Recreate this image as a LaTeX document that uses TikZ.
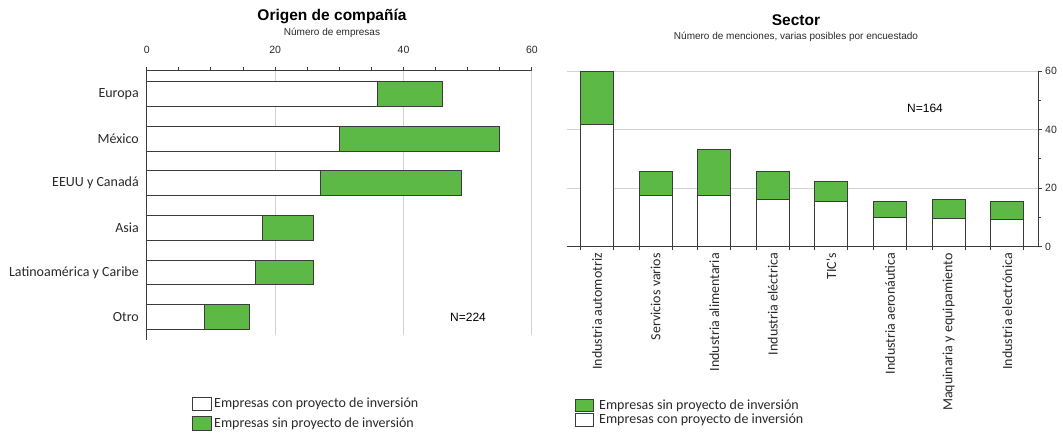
\documentclass[tikz,border=0pt]{standalone}
\usepackage{fontspec}
\setmainfont{Liberation Sans}
\newfontfamily\calfont{Carlito}
\definecolor{barg}{HTML}{5DB945}
\definecolor{gridc}{HTML}{D2D2D2}
\definecolor{edgec}{HTML}{3C3C3C}
\definecolor{labc}{HTML}{2A2A2A}
\begin{document}
\begin{tikzpicture}[x=1pt,y=-1pt,
  bedge/.style={draw=edgec, line width=0.9pt},
  wbar/.style={bedge, fill=white},
  gbar/.style={bedge, fill=barg},
  gridl/.style={draw=gridc, line width=1pt},
  axisl/.style={draw=edgec, line width=0.9pt},
  catlab/.style={font=\calfont\fontsize{14}{16}\selectfont, text=labc, inner sep=0pt},
  numlab/.style={font=\fontsize{10.5}{12}\selectfont, text=labc, inner sep=0pt},
  ttl/.style={font=\bfseries\fontsize{15.5}{18}\selectfont, inner sep=0pt},
  subttl/.style={font=\fontsize{10}{12}\selectfont, text=labc, inner sep=0pt},
  nlab/.style={font=\fontsize{12}{14}\selectfont, inner sep=0pt},
  legbox/.style={draw=edgec, line width=0.8pt},
]
\useasboundingbox (0,0) rectangle (1063,434);
\fill[white] (0,0) rectangle (1063,434);

% ---------------- Left chart: Origen de compañía ----------------
\node[ttl] (otitle) at (332,16.7) {Origen de compañía};
\node[subttl] (osub) at (332,33.3) {Número de empresas};
\foreach \v in {0,20,40,60}
  \node[numlab] (otick\v) at ({146.7+6.42*\v},50) {\v};
\foreach \v in {20,40,60}
  \draw[gridl] ({146.7+6.42*\v},70.7) -- ({146.7+6.42*\v},335);
\foreach \w/\t/\lab [count=\i from 0] in {36/46/Europa,30/55/México,27/49/{EEUU y Canadá},18/26/Asia,17/26/{Latinoamérica y Caribe},9/16/Otro} {
  \pgfmathsetmacro\yc{94+44.6*\i}
  \draw[gbar] ({146.7+6.42*\w},\yc-12.4) rectangle ({146.7+6.42*\t},\yc+12.4);
  \draw[wbar] (146.7,\yc-12.4) rectangle ({146.7+6.42*\w},\yc+12.4);
  \node[catlab, anchor=east] (ocat\i) at (139,\yc) {\lab};
}
\draw[axisl] (146.7,70.7) -- (531.7,70.7);
\draw[axisl] (146.7,70.7) -- (146.7,340);
\foreach \k in {0,...,12}
  \draw[axisl] ({146.7+32.1*\k},70.7) -- ++(0,-3.5);
\node[nlab] (on) at (468,317) {N=224};

% legend left
\draw[legbox, fill=white] (192.7,397) rectangle (211.7,410);
\node[catlab, anchor=west] (oleg1) at (214,403.5) {Empresas con proyecto de inversión};
\draw[legbox, fill=barg] (192.7,416.7) rectangle (211.7,430);
\node[catlab, anchor=west] (oleg2) at (214,423.3) {Empresas sin proyecto de inversión};

% ---------------- Right chart: Sector ----------------
\node[ttl] (stitle) at (796,20) {Sector};
\node[subttl] (ssub) at (796,36.7) {Número de menciones, varias posibles por encuestado};
\foreach \v in {20,40,60}
  \draw[gridl] (566.7,{246.7-2.928*\v}) -- (1038,{246.7-2.928*\v});
\foreach \wt/\gt/\lab [count=\i from 0] in {124/71/Industria automotriz,195.7/171.7/Servicios varios,195.7/149/Industria alimentaria,199/171.7/Industria eléctrica,201.7/181/TIC's,217.3/201.7/Industria aeronáutica,218.3/199/Maquinaria y equipamiento,219.3/201.7/Industria electrónica} {
  \pgfmathsetmacro\xl{580.5+58.6*\i}
  \draw[gbar] (\xl,\gt) rectangle (\xl+33,\wt);
  \draw[wbar] (\xl,\wt) rectangle (\xl+33,246.7);
  \draw[axisl] (\xl,246.7) -- ++(0,3.5);
  \draw[axisl] (\xl+33,246.7) -- ++(0,3.5);
  \node[catlab, rotate=90, anchor=east] (scat\i) at (\xl+16.5,253) {\lab};
}
\draw[axisl] (566.7,246.7) -- (1038,246.7);
\draw[axisl] (1038,71) -- (1038,246.7);
\foreach \v in {0,20,40,60}
  \draw[axisl] (1038,{246.7-2.928*\v}) -- ++(4,0);
\foreach \v in {10,30,50}
  \draw[axisl] (1038,{246.7-2.928*\v}) -- ++(3,0);
\foreach \v in {0,20,40,60}
  \node[numlab, anchor=west] (stick\v) at (1045,{246.7-2.928*\v}) {\v};
\node[nlab] (sn) at (925,108) {N=164};

% legend right
\draw[legbox, fill=barg] (575,399.3) rectangle (593.3,411.7);
\node[catlab, anchor=west] (sleg1) at (599,405.5) {Empresas sin proyecto de inversión};
\draw[legbox, fill=white] (575,413.5) rectangle (593.3,426.7);
\node[catlab, anchor=west] (sleg2) at (599,420.1) {Empresas con proyecto de inversión};
\end{tikzpicture}
\end{document}
